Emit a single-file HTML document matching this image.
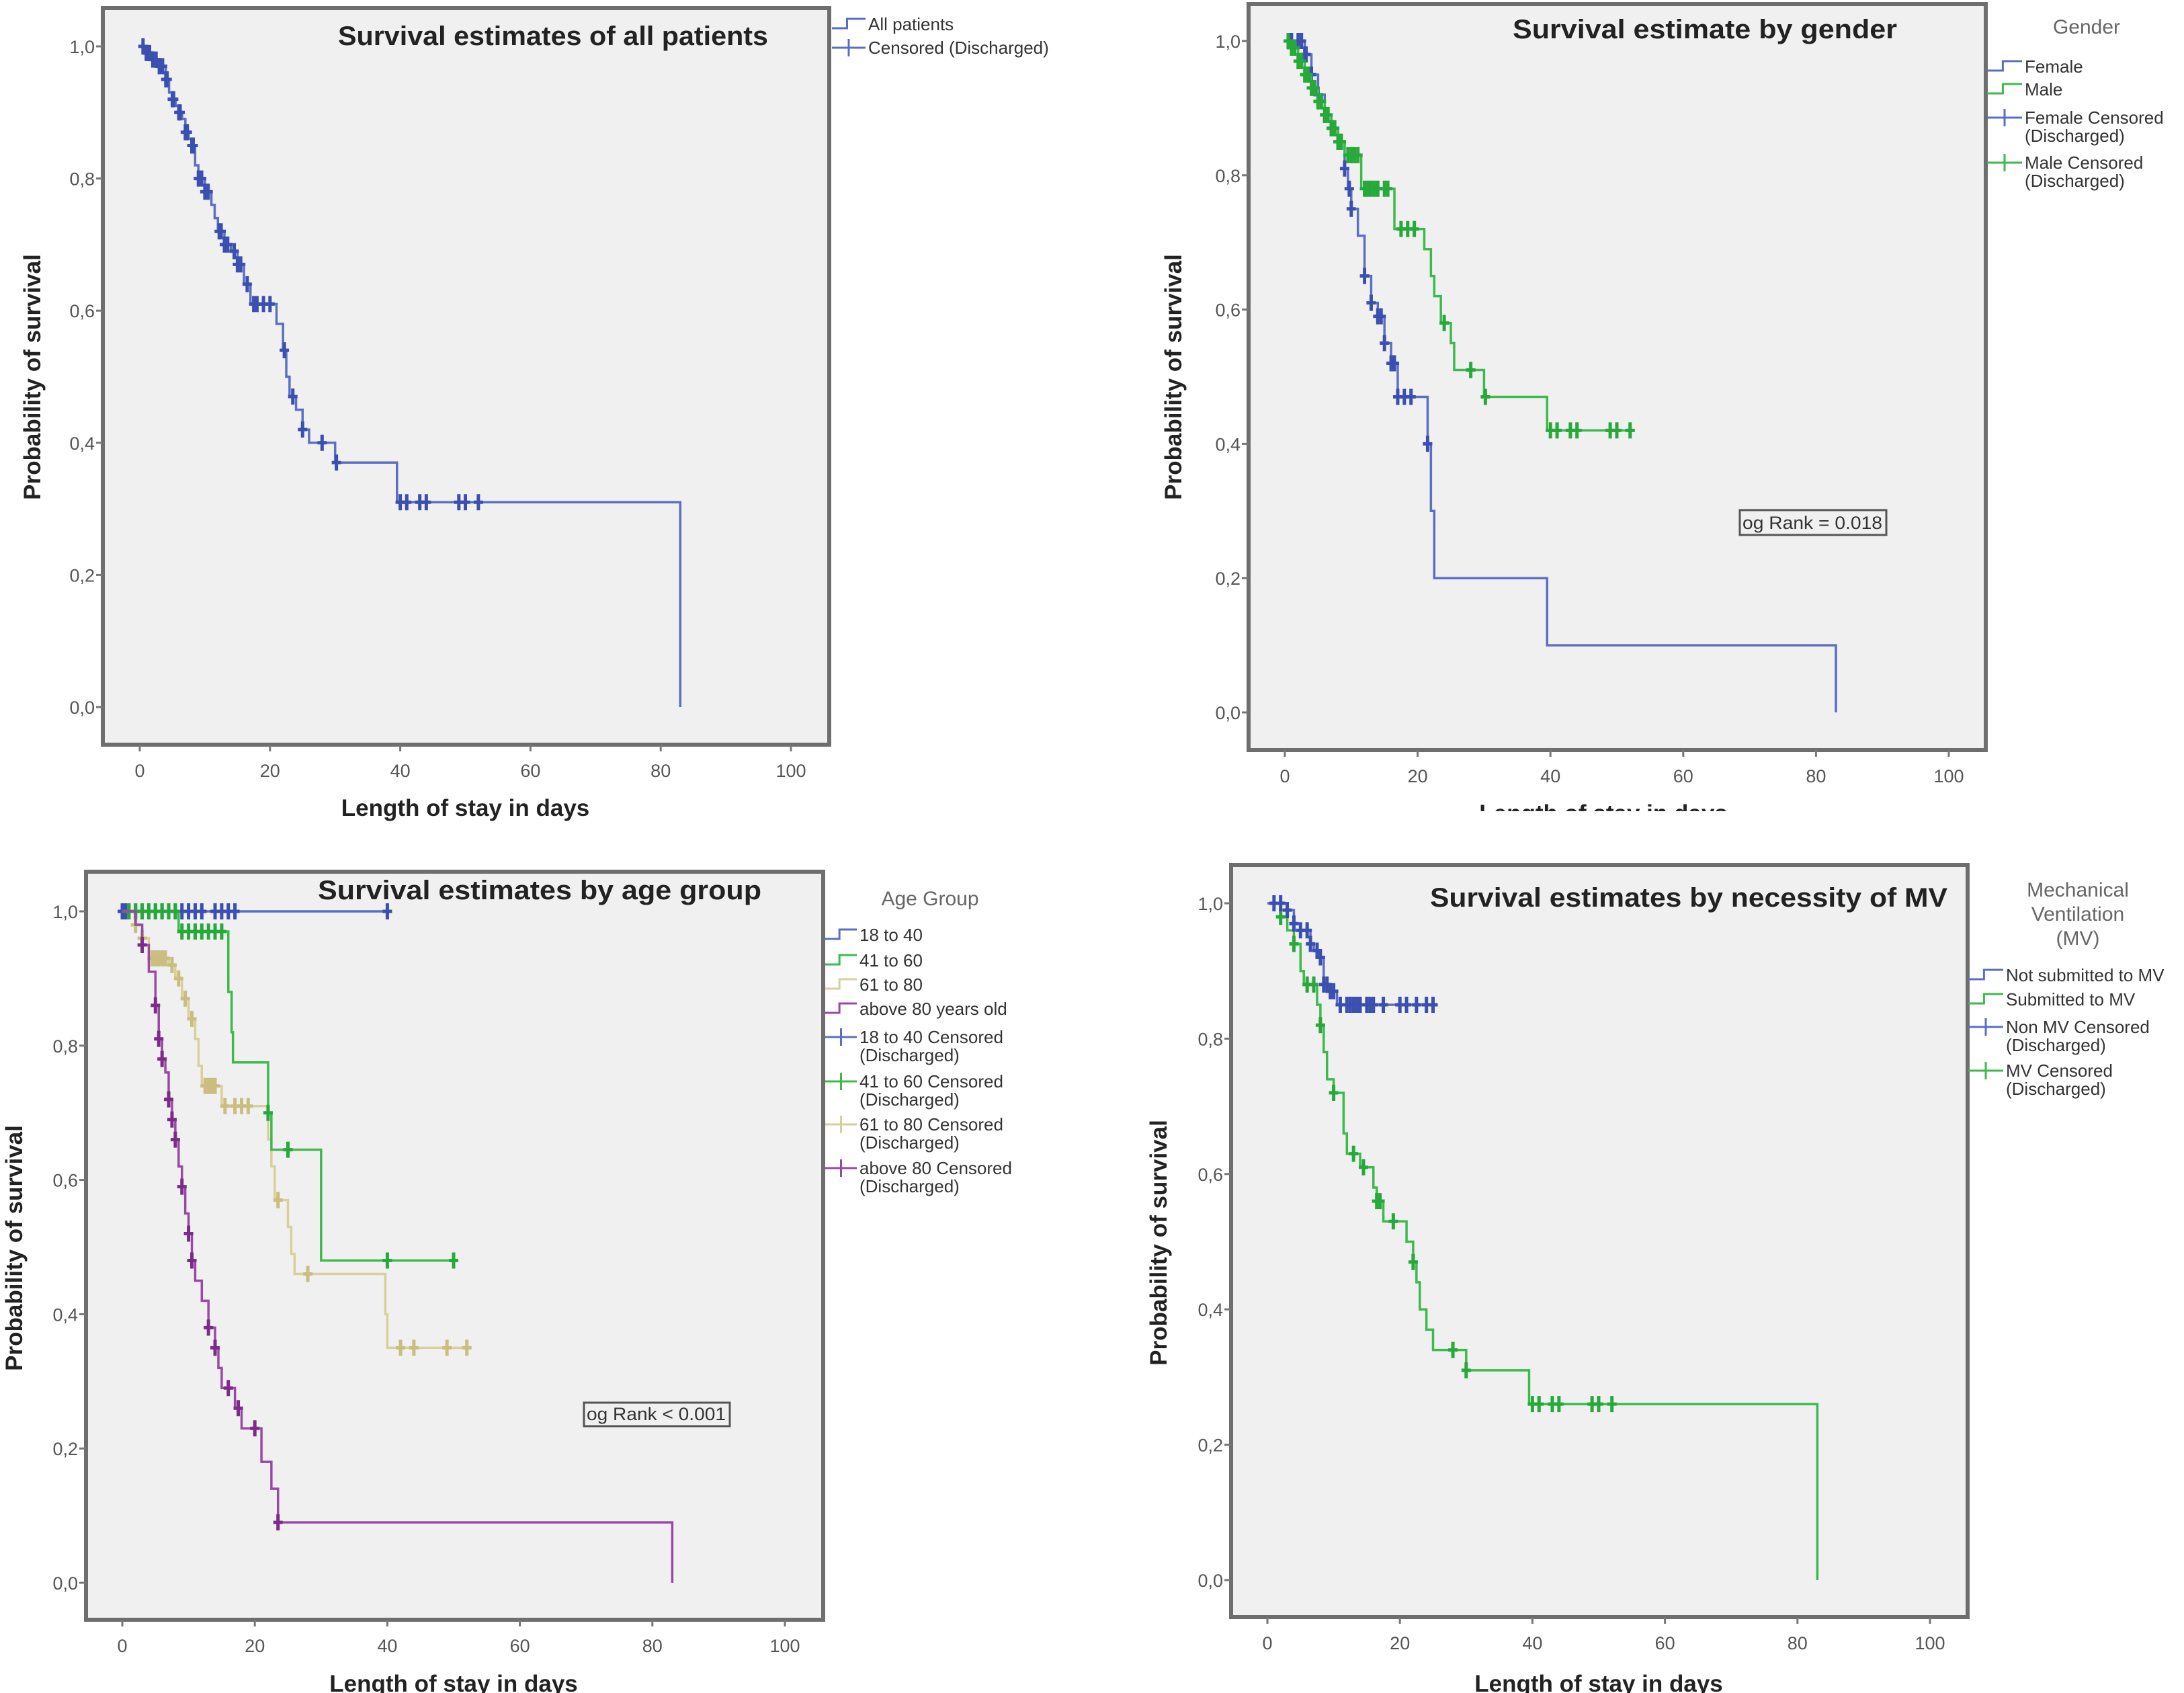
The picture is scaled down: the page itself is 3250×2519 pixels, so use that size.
<!DOCTYPE html>
<html><head><meta charset="utf-8"><style>
body{margin:0;background:#fff}
svg{display:block}
text{font-family:"Liberation Sans",sans-serif}
</style></head><body>
<svg id="c" width="3250" height="2519" viewBox="0 0 3250 2519" xmlns="http://www.w3.org/2000/svg"></svg>
<script>
// ---- data ----
const xTicks=[0,20,40,60,80,100];
const yTicks=[0,0.2,0.4,0.6,0.8,1.0];
const yTickLabels=["0,0","0,2","0,4","0,6","0,8","1,0"];

const allT=[1,2,3,4,4.5,5,5.5,6,6.5,7,7.5,8,8.5,9,10,11,11.5,12,13,14,15,16,17,21,22,22.5,23,24,25,26,30,39.5,83];
const allS=[0.99,0.98,0.97,0.95,0.93,0.92,0.91,0.90,0.89,0.87,0.86,0.85,0.82,0.80,0.78,0.76,0.74,0.72,0.70,0.69,0.67,0.64,0.61,0.58,0.54,0.50,0.47,0.45,0.42,0.40,0.37,0.31,0.0];
const allC=[0.5,1,1.2,1.5,2,2.5,3,3.5,4,4.2,5,5.2,6,6.2,7,7.3,8,8.2,9,9.5,10,10.5,12.2,12.5,13,13.5,14.5,15,15.5,16.5,17.5,18,19,20,22.2,23.5,25,28,30.2,40,41,43,44,49,50,52];

const femT=[3,4,5,6,7,8,9,9.5,10,11,12,13,14,15,16,17,21.5,22,22.5,39.5,83];
const femS=[0.98,0.95,0.92,0.89,0.87,0.85,0.81,0.78,0.75,0.71,0.65,0.61,0.59,0.55,0.52,0.47,0.40,0.30,0.20,0.10,0];
const femC=[1,2,2.5,3,3.2,4,5,6,7,7.5,8,8.5,9,9.7,10,12,13,14,14.5,15,16,16.5,17,18,19,21.5];
const maleT=[1,2,3,4,5,6,7,8,9,11.5,16.5,21,22,22.5,23.5,25,25.5,30,39.5];
const maleS=[0.99,0.97,0.95,0.93,0.91,0.89,0.87,0.85,0.83,0.78,0.72,0.69,0.65,0.62,0.58,0.55,0.51,0.47,0.42];
const maleC=[0.5,1,1.5,2,2.5,3,3.5,4,4.5,5,5.5,6,6.5,7,7.5,8,8.5,9.5,10,10.5,11,12,12.5,13,13.5,14,15,15.5,17.5,18.5,19.5,24,28,30.2,40,41,43,44,49,50,52];

const a18T=[];const a18S=[];
const a18C=[0,0.5,1,2,3,4,5,6,7,8,9,10,11,12,14,15,16,17,40];
const a41T=[8.5,16,16.5,16.7,22,22.5,30];
const a41S=[0.97,0.88,0.82,0.775,0.70,0.645,0.48];
const a41C=[1,2,3,4,5,6,7,8,9,10,11,12,13,14,15,22,25,40,50];
const a61T=[2,3,4,7,8,9,10,11,11.5,12,15,22,22.5,23,25,25.5,26,39.7,40];
const a61S=[0.98,0.96,0.93,0.92,0.90,0.87,0.84,0.81,0.77,0.74,0.71,0.66,0.62,0.57,0.53,0.49,0.46,0.40,0.35];
const a61C=[1,2,3,4.5,5,5.5,6,6.5,7.5,8.5,9.5,10.5,12.5,13,13.5,14,15.5,17,18,19,23.5,28,42,44,49,52];
const a80T=[2,3,4,5,5.5,6,6.5,7,7.5,8,8.5,9,9.5,10,10.5,11,12,13,14,14.5,15,17,18,21,22.5,23.5,83];
const a80S=[0.98,0.95,0.91,0.86,0.81,0.78,0.76,0.72,0.69,0.66,0.62,0.59,0.55,0.52,0.48,0.45,0.42,0.38,0.35,0.32,0.29,0.26,0.23,0.18,0.14,0.09,0];
const a80C=[3,5,5.5,6,7,7.5,8,9,10,10.5,13,14,16,17.5,20,23.5];

const nmvT=[3,4,5,6.5,7,8,8.5,9.5,10.5];
const nmvS=[0.99,0.97,0.96,0.94,0.93,0.92,0.88,0.87,0.85];
const nmvC=[1,2,3,4,5,6,6.5,7.5,8,8.5,9,9.5,10,11,12,12.5,13,13.5,14,15,15.5,16,17.5,20,21,22.5,24,25];
const mvT=[2,3,4,5,5.5,7.5,8,8.5,9,10,11.5,12,14,16,16.5,17.5,21,22,22.5,23,24,25,30,39.5,83];
const mvS=[0.98,0.96,0.94,0.90,0.88,0.85,0.82,0.78,0.74,0.72,0.66,0.63,0.61,0.58,0.56,0.53,0.50,0.47,0.44,0.40,0.37,0.34,0.31,0.26,0];
const mvC=[2,4,6,7,8,10,13,14.5,16.5,17,19,22,28,30,40,41,43,44,49,50,52];

// ---- drawing ----
const NS="http://www.w3.org/2000/svg";
const svg=document.getElementById('c');
function mk(tag,attrs,parent,txt){const e=document.createElementNS(NS,tag);for(const k in attrs){if(attrs[k]!==null&&attrs[k]!==undefined)e.setAttribute(k,attrs[k]);}if(txt!==undefined)e.textContent=txt;(parent||svg).appendChild(e);return e;}
const BLUE="#5a6fc4",BLUED="#3a4fb0",GREEN="#3cba4c",GREEND="#27a83a",TAN="#d8cf9a",TAND="#c9bd80",PURP="#9a48a6",PURPD="#7a2c88";

function survAt(T,S,t){let s=1;for(let i=0;i<T.length;i++){if(T[i]<=t)s=S[i];}return s;}

function panel(cfg){
  const g=mk('g',{});
  
  
  const X=v=>cfg.x0+(cfg.x100-cfg.x0)*v/100;
  const Y=v=>cfg.y0+(cfg.y1-cfg.y0)*v;
  const [bx1,by1,bx2,by2]=cfg.box;
  const r=mk('rect',{x:bx1,y:by1,width:bx2-bx1,height:by2-by1,fill:"#f0f0f0",stroke:"#6e6e6e","stroke-width":6},g);
  
  yTicks.forEach((v,i)=>{
    mk('line',{x1:bx1-10,x2:bx1,y1:Y(v),y2:Y(v),stroke:"#777","stroke-width":3},g);
    const t=mk('text',{x:bx1-12,y:Y(v)+10,"text-anchor":"end","font-size":27,fill:"#555"},g,yTickLabels[i]);
    
  });
  xTicks.forEach(v=>{
    mk('line',{x1:X(v),x2:X(v),y1:by2,y2:by2+10,stroke:"#777","stroke-width":3},g);
    const t=mk('text',{x:X(v),y:by2+48,"text-anchor":"middle","font-size":27,fill:"#555"},g,String(v));
    
  });
  const tt=mk('text',{x:cfg.tx,y:cfg.ty,"text-anchor":"middle","font-size":40,"font-weight":"bold",fill:"#222",textLength:cfg.tw,lengthAdjust:"spacingAndGlyphs"},g,cfg.title);
  
  const xl=mk('text',{x:(cfg.x0+cfg.x100)/2-cfg.xlOff,y:cfg.xly,"text-anchor":"middle","font-size":35,"font-weight":"bold",fill:"#222"},g,"Length of stay in days");
  
  const yl=mk('text',{x:0,y:0,"text-anchor":"middle","font-size":35,"font-weight":"bold",fill:"#222",transform:`translate(${cfg.ylx},${cfg.yly}) rotate(-90)`},g,"Probability of survival");
  

  cfg.series.forEach(s=>{
    let d=`M${X(0)},${Y(1)}`;
    s.T.forEach((t,i)=>{d+=` H${X(t)} V${Y(s.S[i])}`;});
    const end=Math.max(s.end||0,...s.C,...(s.T.length?[s.T[s.T.length-1]]:[0]));
    d+=` H${X(end)}`;
    const p=mk('path',{d:d,fill:"none",stroke:s.col,"stroke-width":3.5},g);
    
    s.C.forEach(t=>{
      const cx=X(t),cy=Y(survAt(s.T,s.S,t));
      const m=mk('path',{d:`M${cx},${cy-12} V${cy+12} M${cx-7},${cy} H${cx+7}`,stroke:s.dcol,"stroke-width":5,fill:"none"},g);
      
    });
  });

  if(cfg.legTitle){cfg.legTitle.forEach((l,i)=>{const t=mk('text',{x:cfg.legTX,y:cfg.legTY+i*36,"text-anchor":"middle","font-size":30,fill:"#666"},g,l);});}
  cfg.leg.forEach(e=>{
    const lg=mk('g',{},g);
    
    const x1=cfg.lsx,x2=cfg.lsx+cfg.lsw,y=e.y;
    if(e.type==='line'){
      mk('path',{d:`M${x1},${y+6} H${x1+(x2-x1)*0.45} V${y-8} H${x2}`,stroke:e.col,"stroke-width":3,fill:"none"},lg);
    } else {
      const m=(x1+x2)/2;
      mk('path',{d:`M${x1},${y} H${x2} M${m},${y-13} V${y+13}`,stroke:e.col,"stroke-width":3,fill:"none"},lg);
    }
    e.lines.forEach((l,i)=>mk('text',{x:x2+4,y:y+9+i*27,"font-size":26,fill:"#333"},lg,l));
  });
  if(cfg.lr){const [x1,y1,x2,y2,txt]=cfg.lr;const lb=mk('g',{},g);
    mk('rect',{x:x1,y:y1,width:x2-x1,height:y2-y1,fill:"#f0f0f0",stroke:"#555","stroke-width":3},lb);
    mk('text',{x:x1+4,y:y2-9,"font-size":27,fill:"#333",textLength:x2-x1-10,lengthAdjust:"spacingAndGlyphs"},lb,txt);}
}

panel({name:'panel-all-patients',box:[153,12,1234,1108],x0:208,x100:1177,y1:69,y0:1052,
  title:"Survival estimates of all patients",tx:823,ty:67,tw:640,xly:1214,xlOff:0,ylx:60,yly:561,
  series:[{id:'all',T:allT,S:allS,C:allC,col:BLUE,dcol:BLUED,end:83}],
  lsx:1238,lsw:50,
  leg:[{type:'line',col:BLUE,y:36,lines:["All patients"]},{type:'cens',col:BLUE,y:71,lines:["Censored (Discharged)"]}]});

panel({name:'panel-gender',box:[1858,6,2955,1116],x0:1912,x100:2900,y1:61,y0:1060,
  title:"Survival estimate by gender",tx:2537,ty:57,tw:572,xly:1222,xlOff:20,ylx:1758,yly:561,
  series:[{id:'female',T:femT,S:femS,C:femC,col:BLUE,dcol:BLUED,end:83},{id:'male',T:maleT,S:maleS,C:maleC,col:GREEN,dcol:GREEND,end:52}],
  legTitle:["Gender"],legTX:3105,legTY:50,lsx:2957,lsw:52,
  leg:[{type:'line',col:BLUE,y:99,lines:["Female"]},{type:'line',col:GREEN,y:133,lines:["Male"]},
    {type:'cens',col:BLUE,y:175,lines:["Female Censored","(Discharged)"]},{type:'cens',col:GREEN,y:242,lines:["Male Censored","(Discharged)"]}],
  lr:[2589,759,2807,796,"og Rank = 0.018"]});

panel({name:'panel-age-group',box:[128,1297,1225,2410],x0:182,x100:1168,y1:1356,y0:2355,
  title:"Survival estimates by age group",tx:803,ty:1338,tw:660,xly:2517,xlOff:0,ylx:33,yly:1857,
  series:[{id:'age-18-40',T:a18T,S:a18S,C:a18C,col:BLUE,dcol:BLUED,end:40},{id:'age-61-80',T:a61T,S:a61S,C:a61C,col:TAN,dcol:TAND,end:52},
    {id:'age-41-60',T:a41T,S:a41S,C:a41C,col:GREEN,dcol:GREEND,end:50},{id:'age-above-80',T:a80T,S:a80S,C:a80C,col:PURP,dcol:PURPD,end:83}],
  legTitle:["Age Group"],legTX:1384,legTY:1347,lsx:1228,lsw:47,
  leg:[{type:'line',col:BLUE,y:1391,lines:["18 to 40"]},{type:'line',col:GREEN,y:1429,lines:["41 to 60"]},{type:'line',col:TAN,y:1465,lines:["61 to 80"]},{type:'line',col:PURP,y:1501,lines:["above 80 years old"]},
    {type:'cens',col:BLUE,y:1543,lines:["18 to 40 Censored","(Discharged)"]},{type:'cens',col:GREEN,y:1609,lines:["41 to 60 Censored","(Discharged)"]},
    {type:'cens',col:TAN,y:1673,lines:["61 to 80 Censored","(Discharged)"]},{type:'cens',col:PURP,y:1738,lines:["above 80 Censored","(Discharged)"]}],
  lr:[869,2087,1086,2122,"og Rank < 0.001"]});

panel({name:'panel-mechanical-ventilation',box:[1832,1287,2928,2406],x0:1886,x100:2872,y1:1344,y0:2351,
  title:"Survival estimates by necessity of MV",tx:2513,ty:1349,tw:770,xly:2517,xlOff:0,ylx:1736,yly:1849,
  series:[{id:'mv',T:mvT,S:mvS,C:mvC,col:GREEN,dcol:GREEND,end:83},{id:'non-mv',T:nmvT,S:nmvS,C:nmvC,col:BLUE,dcol:BLUED,end:25}],
  legTitle:["Mechanical","Ventilation","(MV)"],legTX:3092,legTY:1334,lsx:2929,lsw:52,
  leg:[{type:'line',col:BLUE,y:1451,lines:["Not submitted to MV"]},{type:'line',col:GREEN,y:1487,lines:["Submitted to MV"]},
    {type:'cens',col:BLUE,y:1528,lines:["Non MV Censored","(Discharged)"]},{type:'cens',col:GREEN,y:1593,lines:["MV Censored","(Discharged)"]}]});

const wb=mk('rect',{x:1700,y:1207,width:1500,height:40,fill:"#fff"});


</script>
</body></html>
